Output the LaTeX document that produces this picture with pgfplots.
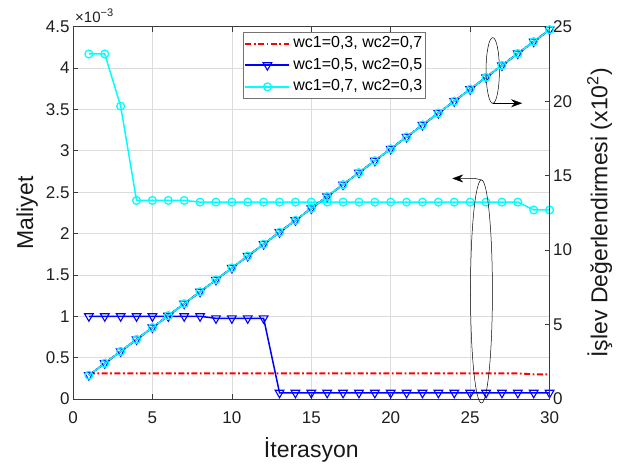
\documentclass[border=0pt]{standalone}
\usepackage{fontspec}
\setmainfont{Liberation Sans}
\usepackage{pgfplots}
\usepackage{pgfplotstable}
\pgfplotsset{compat=1.18}
\usetikzlibrary{arrows.meta}

\definecolor{axisgray}{RGB}{60,60,60}
\definecolor{gridgray}{RGB}{220,220,220}
\definecolor{mred}{RGB}{255,0,0}
\definecolor{mblue}{RGB}{0,0,255}
\definecolor{mcyan}{RGB}{0,255,255}

% cost per iteration (x 10^-3) for the three weight pairs
\pgfplotstableread{
it  wa     wb     wc
1   0.310  1.000  4.170
2   0.310  1.000  4.170
3   0.310  1.000  3.540
4   0.310  1.000  2.400
5   0.310  1.000  2.400
6   0.310  1.000  2.400
7   0.310  1.000  2.400
8   0.310  1.000  2.380
9   0.310  0.975  2.380
10  0.310  0.975  2.380
11  0.310  0.975  2.380
12  0.310  0.975  2.380
13  0.310  0.075  2.380
14  0.310  0.075  2.380
15  0.310  0.075  2.380
16  0.310  0.075  2.380
17  0.310  0.075  2.380
18  0.310  0.075  2.380
19  0.310  0.075  2.380
20  0.310  0.075  2.380
21  0.310  0.075  2.380
22  0.310  0.075  2.380
23  0.310  0.075  2.380
24  0.310  0.075  2.380
25  0.310  0.075  2.380
26  0.310  0.075  2.380
27  0.310  0.075  2.380
28  0.310  0.075  2.380
29  0.298  0.075  2.285
30  0.298  0.075  2.285
}\costdata

% function evaluations (x 10^2), identical for all weight pairs
\pgfplotstableread{
it  fe
1   1.6
2   2.4
3   3.2
4   4.0
5   4.8
6   5.6
7   6.4
8   7.2
9   8.0
10  8.8
11  9.6
12  10.4
13  11.2
14  12.0
15  12.8
16  13.6
17  14.4
18  15.2
19  16.0
20  16.8
21  17.6
22  18.4
23  19.2
24  20.0
25  20.8
26  21.6
27  22.4
28  23.2
29  24.0
30  24.8
}\evaldata

\pgfplotsset{
  common/.style={
    scale only axis, width=476.6pt, height=372.3pt,
    at={(0pt,0pt)}, anchor=south west,
    xmin=0, xmax=30, xtick={0,5,10,15,20,25,30},
    tick align=inside, major tick length=5pt,
    axis line style={axisgray, line width=0.6pt},
    tick style={axisgray, line width=0.6pt},
    ticklabel style={font=\fontsize{17}{17}\selectfont, text=black!88},
    xticklabel style={yshift=-9pt},
    /pgf/number format/assume math mode=true,
    label style={font=\fontsize{23}{23}\selectfont, text=black!90},
    clip=false,
  },
  redline/.style={color=mred, draw=mred, line width=1.9pt,
    dash pattern=on 6pt off 2.5pt on 1.8pt off 2.5pt, mark=none},
  blueline/.style={color=mblue, draw=mblue, line width=1.5pt, mark=triangle, mark size=5pt,
    mark options={solid, rotate=180, line width=1.1pt, draw=mblue}},
  cyanline/.style={color=mcyan, draw=mcyan, line width=1.5pt, mark=o, mark size=3.9pt,
    mark options={solid, line width=1.3pt, draw=mcyan}},
}

\begin{document}
\begin{tikzpicture}
\useasboundingbox (-73pt,-64pt) rectangle (555pt,399pt);

\begin{axis}[common,
  ymin=0, ymax=4.5, ytick={0,0.5,1,1.5,2,2.5,3,3.5,4,4.5},
  ytick pos=left, xtick pos=both,
  grid=major, grid style={gridgray, line width=0.6pt},
  xlabel={İterasyon},
  xlabel style={at={(axis description cs:0.5,-0.158)}, anchor=base},
  ylabel={Maliyet},
  ylabel style={at={(axis description cs:-0.0839,0.5)}, anchor=base},
  legend image code/.code={\draw[mark repeat=2, mark phase=2, #1] plot coordinates {(0pt,0pt) (22pt,0pt) (44pt,0pt)};},
  legend style={at={(0.357,0.987)}, anchor=north west, draw=black!55, line width=0.6pt,
    fill=white, font=\fontsize{16}{16}\selectfont, inner sep=1pt, row sep=0pt,
    column sep=1pt,
    nodes={inner ysep=3.3pt, inner xsep=2pt, text height=11.5pt, text depth=3.5pt}},
  legend cell align=left,
]
\addplot[redline] table[x=it, y=wa] {\costdata};
\addlegendentry{wc1=0,3, wc2=0,7}
\addplot[blueline] table[x=it, y=wb] {\costdata};
\addlegendentry{wc1=0,5, wc2=0,5}
\addplot[cyanline] table[x=it, y=wc] {\costdata};
\addlegendentry{wc1=0,7, wc2=0,3}
\node[anchor=south west, inner sep=0pt, font=\fontsize{15}{15}\selectfont, text=black!88]
  at (rel axis cs:0,1) [xshift=2pt, yshift=4pt] {×10\raisebox{6pt}{\fontsize{11}{11}\selectfont −3}};
\end{axis}

\begin{axis}[common,
  axis x line=none, axis y line*=right,
  ymin=0, ymax=25, ytick={0,5,10,15,20,25},
  ylabel={İşlev Değerlendirmesi (x10\textsuperscript{2})},
  ylabel style={at={(axis description cs:1.1211,0.5)}, anchor=base},
]
\addplot[redline] table[x=it, y=fe] {\evaldata};
\addplot[blueline] table[x=it, y=fe] {\evaldata};
\addplot[cyanline] table[x=it, y=fe] {\evaldata};
% annotation ellipses with arrows pointing to the relevant axis
\draw[black, line width=0.5pt] (axis cs:25.71,7.22) ellipse [x radius=0.69, y radius=7.49];
\draw[black, line width=0.5pt, -{Stealth[length=11pt, width=8pt]}] (axis cs:25.71,14.71) -- (axis cs:25.3,14.81) -- (axis cs:23.87,14.81);
\draw[black, line width=0.5pt] (axis cs:26.42,22.06) ellipse [x radius=0.42, y radius=2.21];
\draw[black, line width=0.5pt, -{Stealth[length=11pt, width=8pt]}] (axis cs:26.42,19.86) -- (axis cs:28.27,19.86);
\end{axis}
\end{tikzpicture}
\end{document}
